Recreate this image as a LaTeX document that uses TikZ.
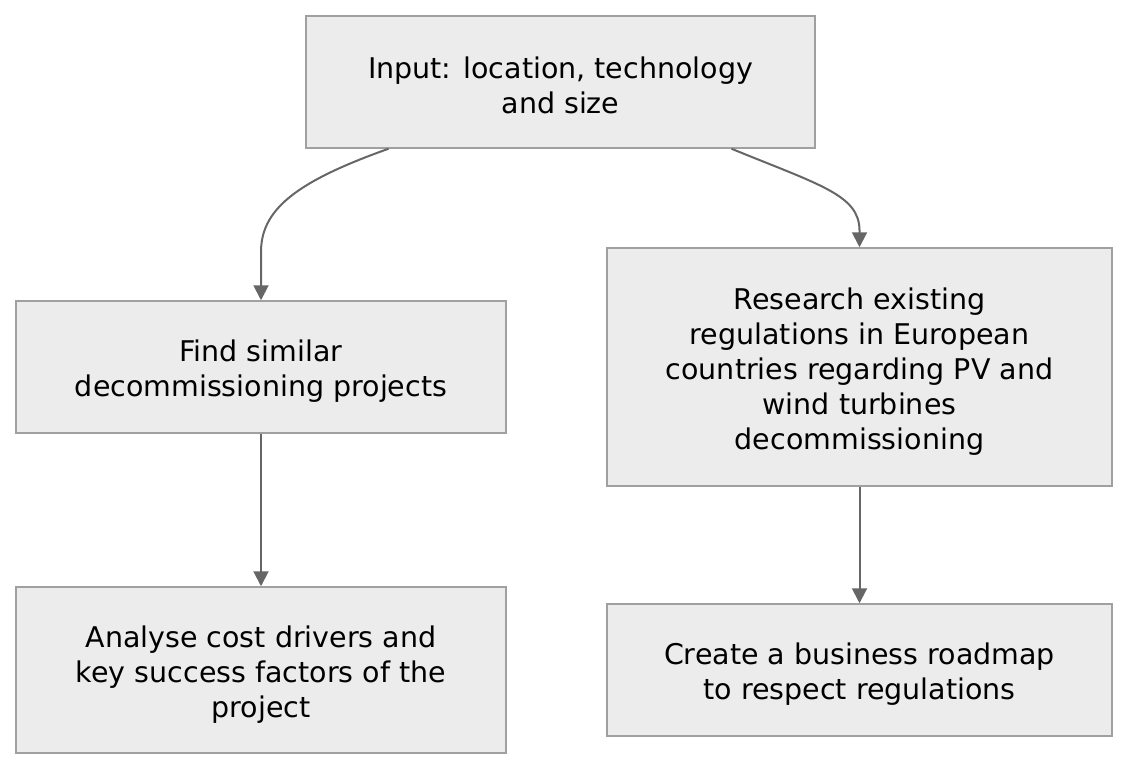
\documentclass[tikz,border=0pt]{standalone}
\usepackage{fontspec}
\setmainfont{DejaVu Sans}
\usetikzlibrary{arrows.meta}
\definecolor{boxfill}{HTML}{ECECEC}
\definecolor{boxline}{HTML}{A0A0A0}
\definecolor{arrowc}{HTML}{666666}
\newcommand\firststrut{\rule{0pt}{30pt}}
\newcommand\laststrut{\rule[-3pt]{0pt}{3pt}}
\begin{document}
\begin{tikzpicture}[x=1pt,y=-1pt,
  proc/.style={draw=boxline, fill=boxfill, line width=1.5pt, align=center,
    font=\fontsize{28.5}{35}\selectfont, inner sep=0pt},
  conn/.style={draw=arrowc, line width=2pt, -{Triangle[length=15pt,width=15pt]}}]
\useasboundingbox (0,0) rectangle (1129,771);
\node[proc, minimum width=509pt, minimum height=132pt] (top) at (560.5,82) {\firststrut Input: location, technology\\and size\laststrut};
\node[proc, minimum width=490pt, minimum height=132pt] (l1) at (261,367) {\firststrut Find similar\\decommissioning projects\laststrut};
\node[proc, minimum width=505pt, minimum height=238pt] (r1) at (859.5,367) {\firststrut Research existing\\regulations in European\\countries regarding PV and\\wind turbines\\decommissioning\laststrut};
\node[proc, minimum width=490pt, minimum height=166pt] (l2) at (261,670) {\firststrut Analyse cost drivers and\\key success factors of the\\project\laststrut};
\node[proc, minimum width=505pt, minimum height=132pt] (r2) at (859.5,670) {\firststrut Create a business roadmap\\to respect regulations\laststrut};
\draw[conn] ([xshift=-172pt]top.south) .. controls (295,182) and (261,210) .. (261,252) -- (l1.north);
\draw[conn] ([xshift=171pt]top.south) .. controls (820,185) and (859,195) .. (859.5,230) -- (r1.north);
\draw[conn] (l1) -- (l2);
\draw[conn] (r1) -- (r2);
\end{tikzpicture}
\end{document}
